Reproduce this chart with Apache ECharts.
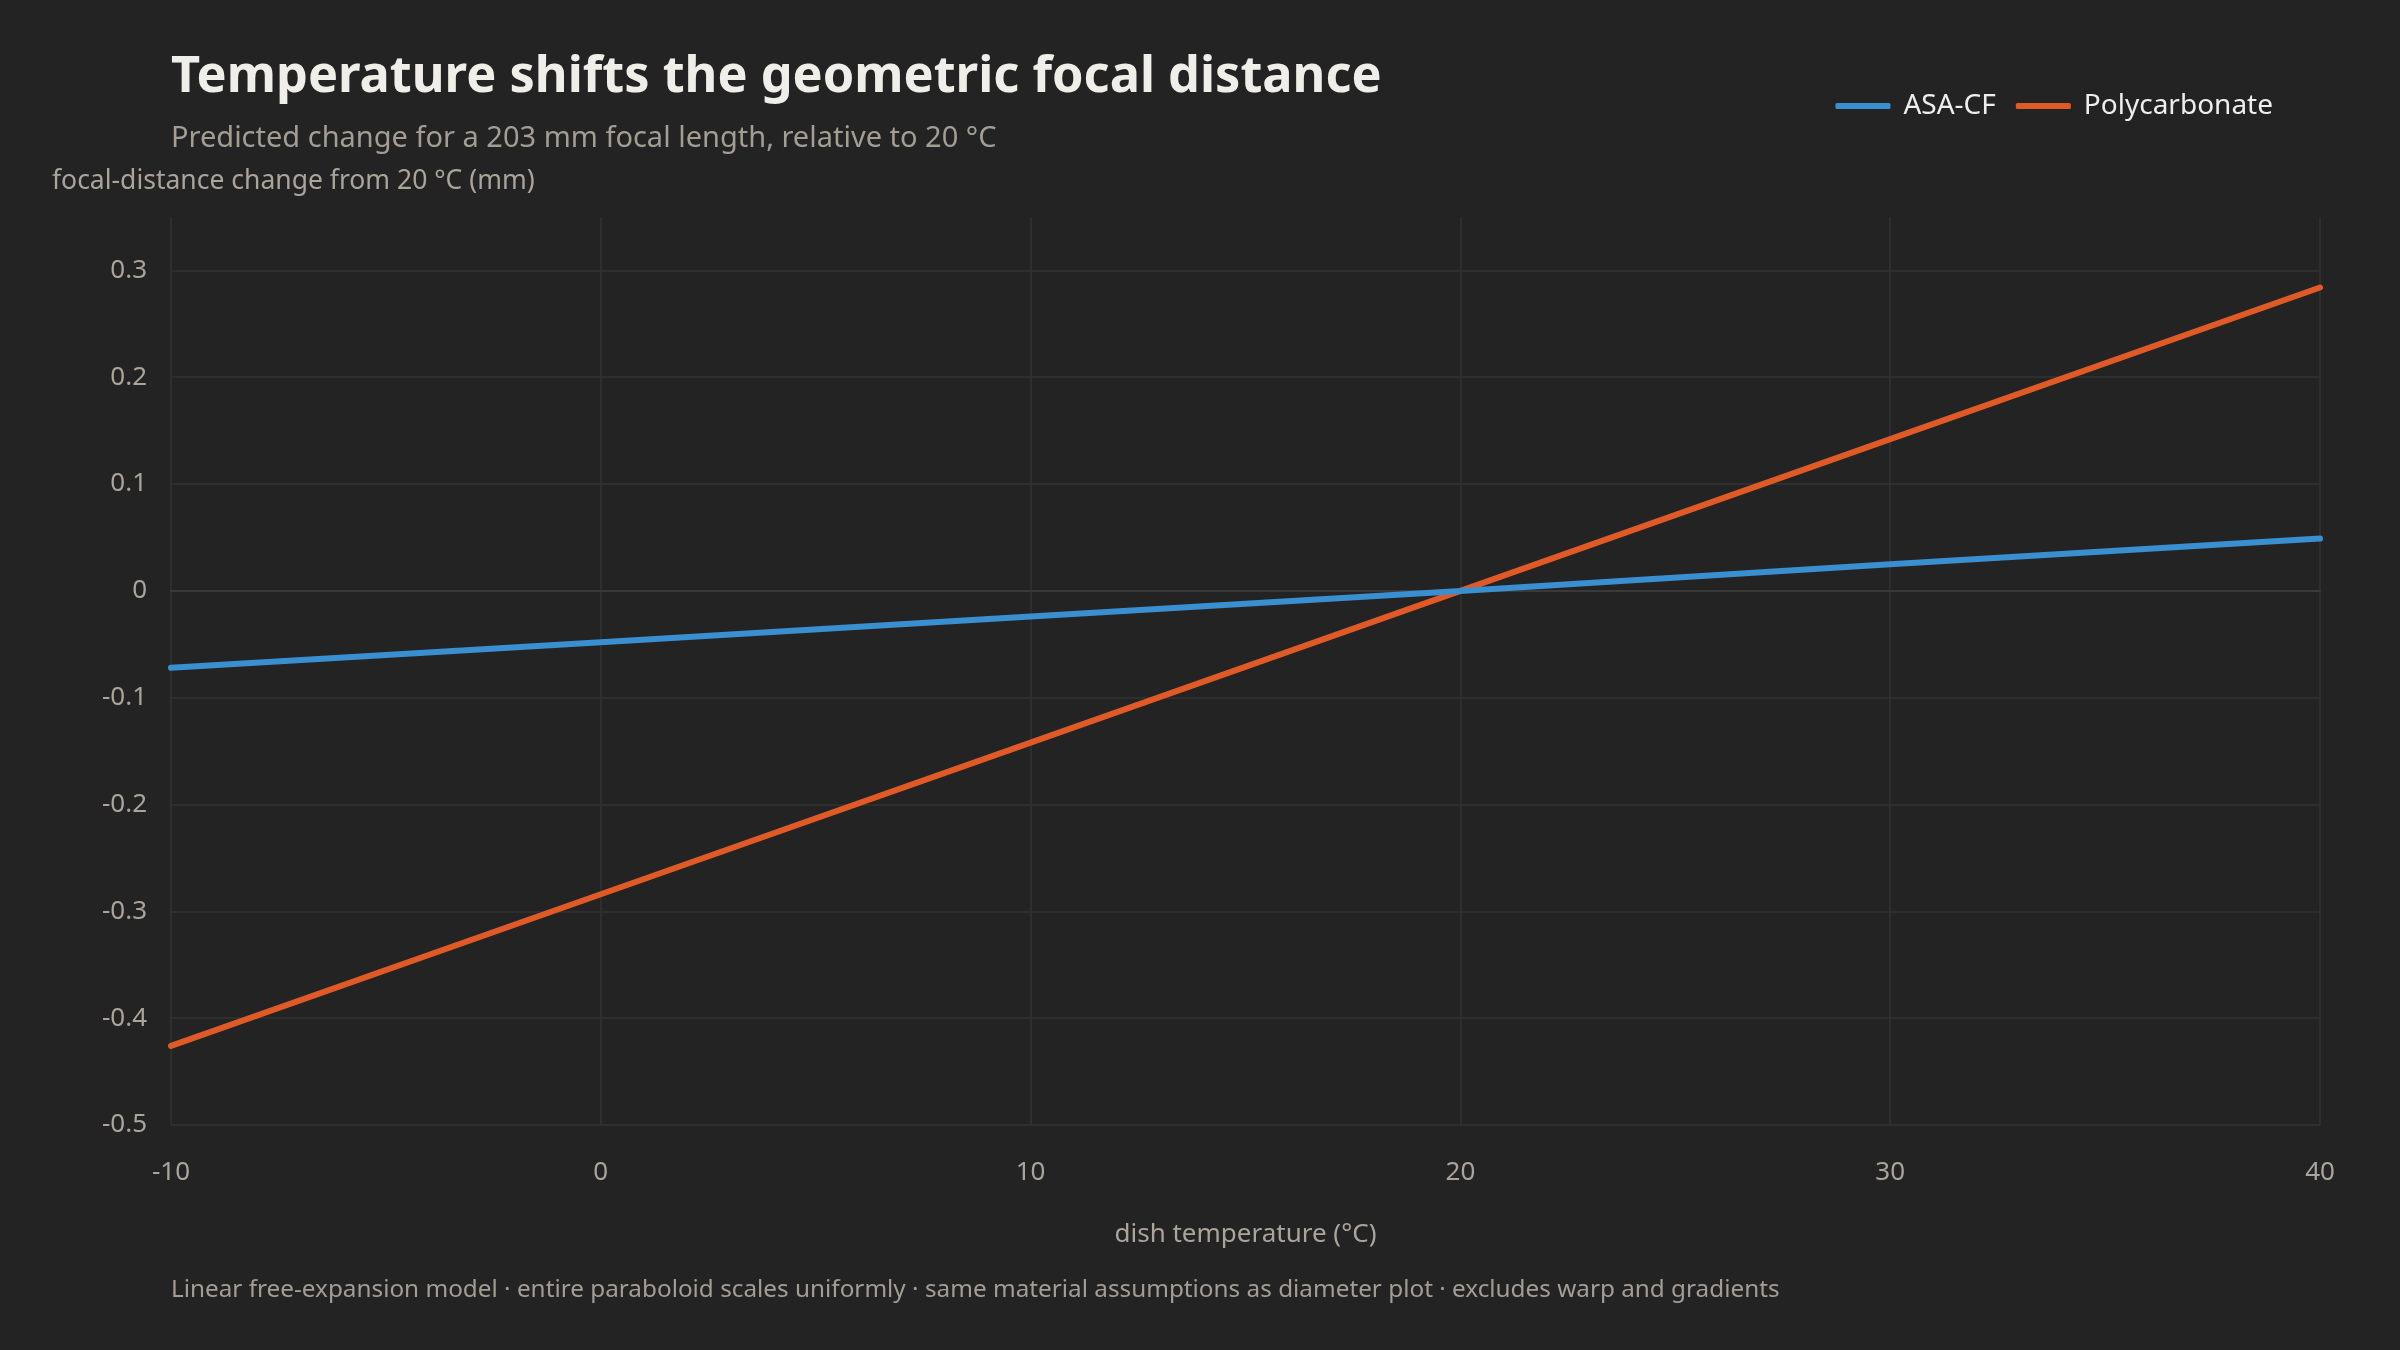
<!DOCTYPE html>
<html>
<head>
<meta charset="utf-8">
<script src="https://cdn.jsdelivr.net/npm/echarts@6/dist/echarts.min.js"></script>
<style>
html,body{margin:0;padding:0;background:#232323;}
#chart{width:2400px;height:1350px;}
</style>
</head>
<body>
<div id="chart"></div>
<script>
const temperatures = [-10, 0, 10, 20, 30, 40];
const asaCF = [-0.072, -0.048, -0.024, 0, 0.025, 0.049];
const polycarbonate = [-0.426, -0.284, -0.142, 0, 0.142, 0.284];
const seriesNames = ['ASA-CF', 'Polycarbonate'];
const yTicks = {min: -0.5, max: 0.35, interval: 0.1};
const xTicks = {min: -10, max: 40, interval: 10};

const FONT = '"Noto Sans", "Open Sans", sans-serif';
const chart = echarts.init(document.getElementById('chart'), null, {renderer: 'canvas'});

const toPairs = (xs, ys) => xs.map((x, i) => [x, ys[i]]);

chart.setOption({
  backgroundColor: '#232323',
  textStyle: {fontFamily: FONT},
  title: {
    text: 'Temperature shifts the geometric focal distance',
    subtext: 'Predicted change for a 203 mm focal length, relative to 20 °C',
    left: 171,
    top: 52,
    padding: 0,
    itemGap: 21,
    textStyle: {color: '#f0eee9', fontSize: 50.5, fontWeight: 'bold', fontFamily: FONT},
    subtextStyle: {color: '#a39d94', fontSize: 29, fontFamily: FONT}
  },
  legend: {
    right: 127,
    top: 92,
    padding: 0,
    itemWidth: 55,
    itemHeight: 6,
    itemGap: 20,
    icon: 'roundRect',
    textStyle: {color: '#eeeeee', fontSize: 28, fontFamily: FONT, padding: [0, 0, 0, 8]},
    data: seriesNames
  },
  grid: {left: 171, right: 80, top: 217, bottom: 225, containLabel: false},
  xAxis: {
    type: 'value',
    min: xTicks.min, max: xTicks.max, interval: xTicks.interval,
    name: 'dish temperature (°C)',
    nameLocation: 'middle',
    nameGap: 97,
    nameTextStyle: {color: '#aaa49b', fontSize: 26, fontFamily: FONT},
    axisLine: {show: true, lineStyle: {color: '#3a3a3a', width: 2}},
    axisTick: {show: false},
    axisLabel: {color: '#aaa49b', fontSize: 26, margin: 35, fontFamily: FONT},
    splitLine: {show: true, lineStyle: {color: '#333333', width: 1.5}}
  },
  yAxis: {
    type: 'value',
    min: yTicks.min, max: yTicks.max, interval: yTicks.interval,
    axisLine: {show: false},
    axisTick: {show: false},
    axisLabel: {
      color: '#aaa49b', fontSize: 26, margin: 24, fontFamily: FONT, showMaxLabel: false,
      formatter: v => (Math.abs(v) < 1e-9 ? '0' : String(Math.round(v * 10) / 10))
    },
    splitLine: {show: true, showMaxLine: false, lineStyle: {color: '#333333', width: 1.5}}
  },
  graphic: [
    {
      type: 'text',
      left: 52,
      top: 168,
      style: {
        text: 'focal-distance change from 20 °C (mm)',
        fill: '#aaa49b',
        font: '26.5px ' + FONT
      }
    },
    {
      type: 'text',
      left: 171,
      top: 1278,
      style: {
        text: 'Linear free-expansion model · entire paraboloid scales uniformly · same material assumptions as diameter plot · excludes warp and gradients',
        fill: '#a39d94',
        font: '24.3px ' + FONT
      }
    }
  ],
  series: [
    {
      name: seriesNames[1],
      type: 'line',
      data: toPairs(temperatures, polycarbonate),
      showSymbol: false,
      symbol: 'none',
      lineStyle: {color: '#e05a28', width: 6, cap: 'round'},
      itemStyle: {color: '#e05a28'},
      z: 2,
      markLine: {
        silent: true,
        symbol: 'none',
        label: {show: false},
        lineStyle: {color: '#393939', type: [5, 3], width: 2},
        data: [{yAxis: 0}],
        z: 1
      }
    },
    {
      name: seriesNames[0],
      type: 'line',
      data: toPairs(temperatures, asaCF),
      showSymbol: false,
      symbol: 'none',
      lineStyle: {color: '#3a8fd0', width: 6, cap: 'round'},
      itemStyle: {color: '#3a8fd0'},
      z: 3
    }
  ]
});
</script>
</body>
</html>
